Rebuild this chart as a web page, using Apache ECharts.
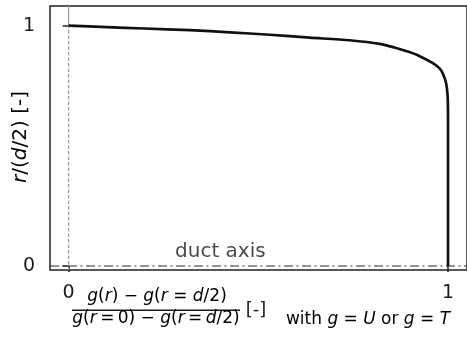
<!DOCTYPE html>
<html><head><meta charset="utf-8">
<script src="https://cdn.jsdelivr.net/npm/echarts@6/dist/echarts.min.js"></script>
<style>html,body{margin:0;padding:0;background:#fff}#c{width:467px;height:339px}</style>
</head><body><div id="c"></div>
<script>
// ---- data ----
const profileX = [0, 0.10, 0.20, 0.32, 0.425, 0.53, 0.635, 0.74, 0.82, 0.872, 0.898, 0.924, 0.959, 0.977, 0.986, 0.995, 0.999, 1.0, 1.0];
const profileY = [1.0, 0.994, 0.988, 0.981, 0.972, 0.962, 0.950, 0.939, 0.924, 0.903, 0.890, 0.874, 0.845, 0.823, 0.802, 0.760, 0.705, 0.610, 0.0];
const xTicks = [0, 1];
const yTicks = [0, 1];
const xRange = [-0.049, 1.05];
const yRange = [-0.0166, 1.0816];
const wallX = 0;
const axisY = 0;
const ductLabelX = 0.40;
const ductLabel = 'duct axis';

const FONT = 'DejaVu Sans';
const ink = '#1a1a1a';

const profile = profileX.map((x, i) => [x, profileY[i]]);

const chart = echarts.init(document.getElementById('c'), null, {renderer: 'canvas'});
const it = {fontStyle: 'italic', fontFamily: FONT, fontSize: 17, color: ink};
const up = {fontFamily: FONT, fontSize: 17, color: ink};
const ts = '\u2009';

chart.setOption({
  animation: false,
  backgroundColor: '#fff',
  grid: {left: 50, top: 6, width: 418, height: 264, show: true, borderColor: '#222', borderWidth: 1.5, backgroundColor: 'transparent'},
  xAxis: {
    type: 'value', min: xRange[0], max: xRange[1],
    axisLine: {show: false},
    axisTick: {show: true, customValues: xTicks, length: 6, lineStyle: {color: '#222', width: 1.5}},
    axisLabel: {customValues: xTicks, fontSize: 19, fontFamily: FONT, color: ink, margin: 14},
    splitLine: {show: false}
  },
  yAxis: {
    type: 'value', min: yRange[0], max: yRange[1],
    axisLine: {show: false},
    axisTick: {show: true, customValues: yTicks, length: 6, lineStyle: {color: '#222', width: 1.5}},
    axisLabel: {customValues: yTicks, fontSize: 19, fontFamily: FONT, color: ink, margin: 15},
    splitLine: {show: false}
  },
  series: [
    {type: 'line', data: [[wallX, yRange[0]], [wallX, 1]], symbol: 'none', silent: true,
     lineStyle: {color: '#999', width: 1.2, type: [3.5, 2]}},
    {type: 'line', data: [[wallX, 1], [wallX, yRange[1]]], symbol: 'none', silent: true,
     lineStyle: {color: '#999', width: 1.2}},
    {type: 'line', data: [[xRange[0], axisY], [xRange[1], axisY]], symbol: 'none', silent: true,
     lineStyle: {color: '#2a2a2a', width: 1.2, type: [9, 3.5, 2, 3.5]}},
    {type: 'scatter', data: [[ductLabelX, axisY]], symbolSize: 0, silent: true,
     label: {show: true, position: 'top', distance: 4, formatter: ductLabel, fontSize: 20, fontFamily: FONT, color: ink}},
    {type: 'line', data: profile, symbol: 'none', smooth: 0.25, silent: true,
     lineStyle: {color: '#111', width: 2.7, cap: 'butt', join: 'round'}}
  ],
  graphic: [
    {type: 'text', x: 21, y: 137, rotation: Math.PI / 2, style: {
      text: '{i|r}{u|/(}{i|d}{u|/2) [-]}', align: 'center', verticalAlign: 'middle',
      rich: {i: Object.assign({}, it, {fontSize: 20}), u: Object.assign({}, up, {fontSize: 20})}}},
    {type: 'text', x: 157, y: 297, style: {
      text: '{i|g}{u|(}{i|r}{u|) − }{i|g}{u|(}{i|r}{u| = }{i|d}{u|/2)}', align: 'center', verticalAlign: 'middle',
      rich: {i: it, u: up}}},
    {type: 'rect', shape: {x: 72, y: 309.5, width: 168, height: 1.4}, style: {fill: ink}},
    {type: 'text', x: 156, y: 319, style: {
      text: '{i|g}{u|(}{i|r}{u|' + ts + '=' + ts + '0) − }{i|g}{u|(}{i|r}{u|' + ts + '=' + ts + '}{i|d}{u|/2)}', align: 'center', verticalAlign: 'middle',
      rich: {i: it, u: up}}},
    {type: 'text', x: 256, y: 310, style: {
      text: '[-]', align: 'center', verticalAlign: 'middle', font: '18px "DejaVu Sans"', fill: ink}},
    {type: 'text', x: 368, y: 320, style: {
      text: '{u|with }{i|g}{u| = }{i|U}{u| or }{i|g}{u| = }{i|T}', align: 'center', verticalAlign: 'middle',
      rich: {i: it, u: up}}}
  ]
});
</script>
</body></html>
